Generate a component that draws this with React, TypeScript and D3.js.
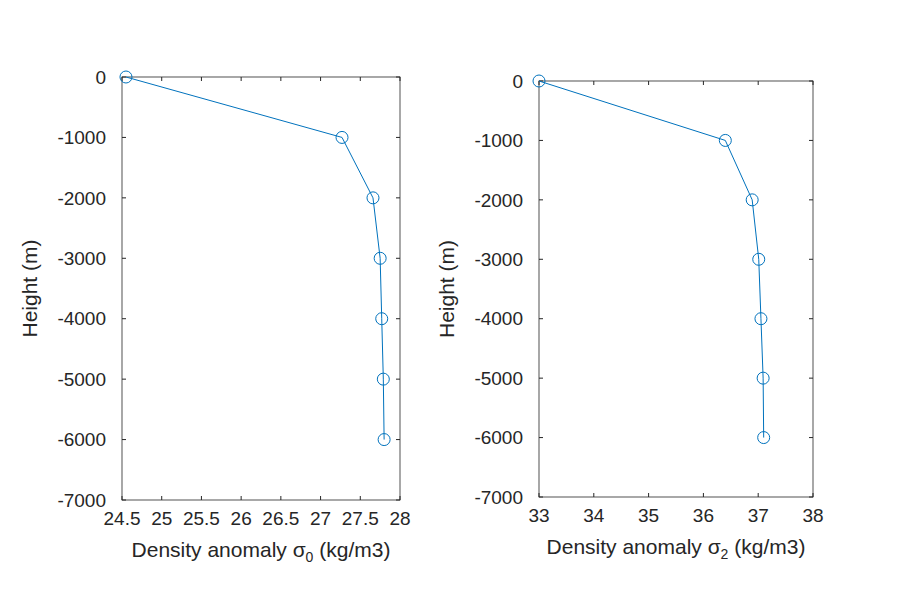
import { useEffect, useRef } from 'react'
import * as d3 from 'd3'

const heights = [0, -1000, -2000, -3000, -4000, -5000, -6000]
const sigma0 = [24.55, 27.27, 27.66, 27.75, 27.77, 27.79, 27.8]
const sigma2 = [33.0, 36.4, 36.89, 37.01, 37.05, 37.09, 37.1]
const yTicks = [0, -1000, -2000, -3000, -4000, -5000, -6000, -7000]
const xTicks0 = [24.5, 25, 25.5, 26, 26.5, 27, 27.5, 28]
const xTicks2 = [33, 34, 35, 36, 37, 38]

const COLOR = '#0072BD'
const FONT = 'Liberation Sans, Arial, sans-serif'

interface Panel {
  left: number
  right: number
  top: number
  bottom: number
  xDomain: [number, number]
  xTicks: number[]
  values: number[]
  sub: string
}

const PANELS: Panel[] = [
  { left: 122, right: 400, top: 77, bottom: 500, xDomain: [24.5, 28], xTicks: xTicks0, values: sigma0, sub: '0' },
  { left: 539, right: 813, top: 81, bottom: 497, xDomain: [33, 38], xTicks: xTicks2, values: sigma2, sub: '2' },
]

export default function App() {
  const svgRef = useRef<SVGSVGElement>(null)

  useEffect(() => {
    if (!svgRef.current) return
    const svg = d3.select(svgRef.current)
    svg.selectAll('*').remove()

    PANELS.forEach(p => {
      const x = d3.scaleLinear().domain(p.xDomain).range([p.left, p.right])
      const y = d3.scaleLinear().domain([-7000, 0]).range([p.bottom, p.top])
      const g = svg.append('g')

      g.append('rect')
        .attr('x', p.left).attr('y', p.top)
        .attr('width', p.right - p.left).attr('height', p.bottom - p.top)
        .attr('fill', 'white').attr('stroke', '#262626').attr('stroke-width', 0.8)

      const tl = 4
      p.xTicks.forEach(t => {
        g.append('line').attr('x1', x(t)).attr('x2', x(t)).attr('y1', p.bottom).attr('y2', p.bottom - tl).attr('stroke', '#262626')
        g.append('line').attr('x1', x(t)).attr('x2', x(t)).attr('y1', p.top).attr('y2', p.top + tl).attr('stroke', '#262626')
        g.append('text').attr('x', x(t)).attr('y', p.bottom + 25)
          .attr('text-anchor', 'middle').attr('font-size', 19).attr('font-family', FONT).attr('fill', '#262626')
          .text(String(t))
      })
      yTicks.forEach(t => {
        g.append('line').attr('x1', p.left).attr('x2', p.left + tl).attr('y1', y(t)).attr('y2', y(t)).attr('stroke', '#262626')
        g.append('line').attr('x1', p.right).attr('x2', p.right - tl).attr('y1', y(t)).attr('y2', y(t)).attr('stroke', '#262626')
        g.append('text').attr('x', p.left - 16).attr('y', y(t)).attr('dy', '0.35em')
          .attr('text-anchor', 'end').attr('font-size', 19).attr('font-family', FONT).attr('fill', '#262626')
          .text(String(t))
      })

      const pts = p.values.map((v, i) => [x(v), y(heights[i])] as [number, number])
      g.append('path').attr('d', d3.line()(pts)).attr('fill', 'none').attr('stroke', COLOR).attr('stroke-width', 1)
      pts.forEach(([cx, cy]) => {
        g.append('circle').attr('cx', cx).attr('cy', cy).attr('r', 6)
          .attr('fill', 'none').attr('stroke', COLOR).attr('stroke-width', 1)
      })

      const xl = g.append('text').attr('x', (p.left + p.right) / 2).attr('y', p.bottom + 57)
        .attr('text-anchor', 'middle').attr('font-size', 21).attr('font-family', FONT).attr('fill', '#262626')
      xl.append('tspan').text('Density anomaly σ')
      xl.append('tspan').attr('font-size', 14).attr('dy', 5).text(p.sub)
      xl.append('tspan').attr('dy', -5).text(' (kg/m3)')

      g.append('text')
        .attr('transform', `translate(${p.left - 85},${(p.top + p.bottom) / 2}) rotate(-90)`)
        .attr('text-anchor', 'middle').attr('font-size', 21).attr('font-family', FONT).attr('fill', '#262626')
        .text('Height (m)')
    })
  }, [])

  return <svg ref={svgRef} width={900} height={600} style={{ position: 'absolute', left: 0, top: 0, background: 'white' }} />
}
